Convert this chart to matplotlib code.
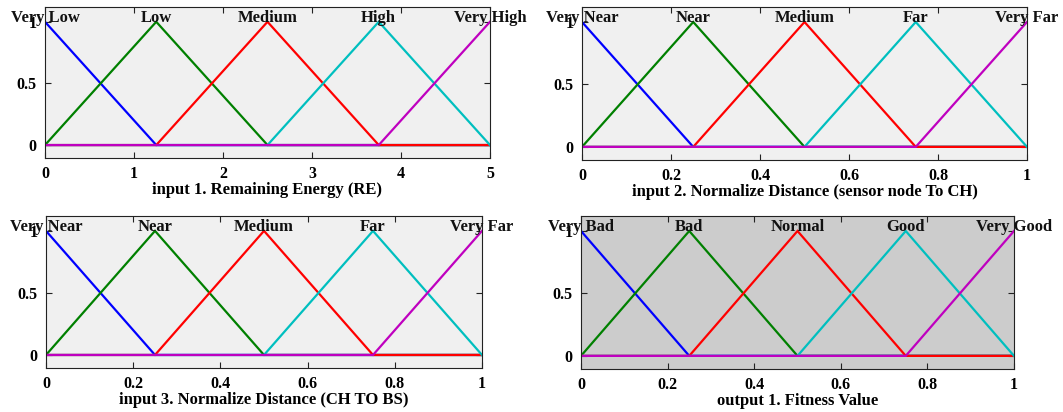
import numpy as np
import matplotlib
matplotlib.use("Agg")
import matplotlib.pyplot as plt

plt.rcParams['font.family'] = ['Liberation Serif', 'DejaVu Serif']
plt.rcParams['font.weight'] = 'bold'

# ---- data ----
ranges = [(0, 5), (0, 1), (0, 1), (0, 1)]
xlabels = ["input 1. Remaining Energy (RE)",
           "input 2. Normalize Distance (sensor node To CH)",
           "input 3. Normalize Distance (CH TO BS)",
           "output 1. Fitness Value"]
mf_names = [["Very Low", "Low", "Medium", "High", "Very High"],
            ["Very Near", "Near", "Medium", "Far", "Very Far"],
            ["Very Near", "Near", "Medium", "Far", "Very Far"],
            ["Very Bad", "Bad", "Normal", "Good", "Very Good"]]
# triangular MF parameters [a, b, c]
mf_params = [[[-1.25, 0, 1.25], [0, 1.25, 2.5], [1.25, 2.5, 3.75], [2.5, 3.75, 5], [3.75, 5, 6.25]],
             [[-0.25, 0, 0.25], [0, 0.25, 0.5], [0.25, 0.5, 0.75], [0.5, 0.75, 1], [0.75, 1, 1.25]],
             [[-0.25, 0, 0.25], [0, 0.25, 0.5], [0.25, 0.5, 0.75], [0.5, 0.75, 1], [0.75, 1, 1.25]],
             [[-0.25, 0, 0.25], [0, 0.25, 0.5], [0.25, 0.5, 0.75], [0.5, 0.75, 1], [0.75, 1, 1.25]]]
xticks = [[0, 1, 2, 3, 4, 5],
          [0, 0.2, 0.4, 0.6, 0.8, 1],
          [0, 0.2, 0.4, 0.6, 0.8, 1],
          [0, 0.2, 0.4, 0.6, 0.8, 1]]
xticklabels = [["0", "1", "2", "3", "4", "5"],
               ["0", "0.2", "0.4", "0.6", "0.8", "1"],
               ["0", "0.2", "0.4", "0.6", "0.8", "1"],
               ["0", "0.2", "0.4", "0.6", "0.8", "1"]]
yticks = [0, 0.5, 1]
yticklabels = ["0", "0.5", "1"]

# ---- style ----
colors = [(0, 0, 1), (0, 0.5, 0), (1, 0, 0), (0, 0.75, 0.75), (0.75, 0, 0.75)]
bgs = ['#f0f0f0', '#f0f0f0', '#f0f0f0', '#cccccc']
positions = [[45/1063, 1-158/412, 445/1063, 151/412],
             [582/1063, 1-160/412, 445/1063, 153/412],
             [46/1063, 1-368/412, 436/1063, 152/412],
             [581/1063, 1-369/412, 433/1063, 153/412]]

fig = plt.figure(figsize=(10.63, 4.12), dpi=100)

def tri(x, p):
    return np.interp(x, [p[0], p[1], p[2]], [0, 1, 0], left=0, right=0)

for i in range(4):
    ax = fig.add_axes(positions[i])
    ax.set_facecolor(bgs[i])
    lo, hi = ranges[i]
    for j, p in enumerate(mf_params[i]):
        xs = np.array(sorted(set([lo, hi] + [v for v in p if lo <= v <= hi])))
        ax.plot(xs, tri(xs, p), color=colors[j], lw=1.6, solid_joinstyle='miter')
        ax.text(p[1], 1.0, mf_names[i][j], ha='center', va='baseline',
                fontsize=12, fontweight='bold', color='#111111', clip_on=False)
    ax.set_xlim(lo, hi)
    ax.set_ylim(-0.105, 1.12)
    ax.set_xticks(xticks[i])
    ax.set_xticklabels(xticklabels[i])
    ax.set_yticks(yticks)
    ax.set_yticklabels(yticklabels)
    ax.tick_params(direction='in', top=True, right=True, length=4, width=0.8,
                   labelsize=11.5, pad=6, color='#222222')
    for lab in ax.get_xticklabels() + ax.get_yticklabels():
        lab.set_fontweight('bold')
    for s in ax.spines.values():
        s.set_linewidth(0.8)
        s.set_color('#222222')
    ax.set_xlabel(xlabels[i], fontsize=12, fontweight='bold', labelpad=0)

fig.savefig("out.png", dpi=100, facecolor='white')
